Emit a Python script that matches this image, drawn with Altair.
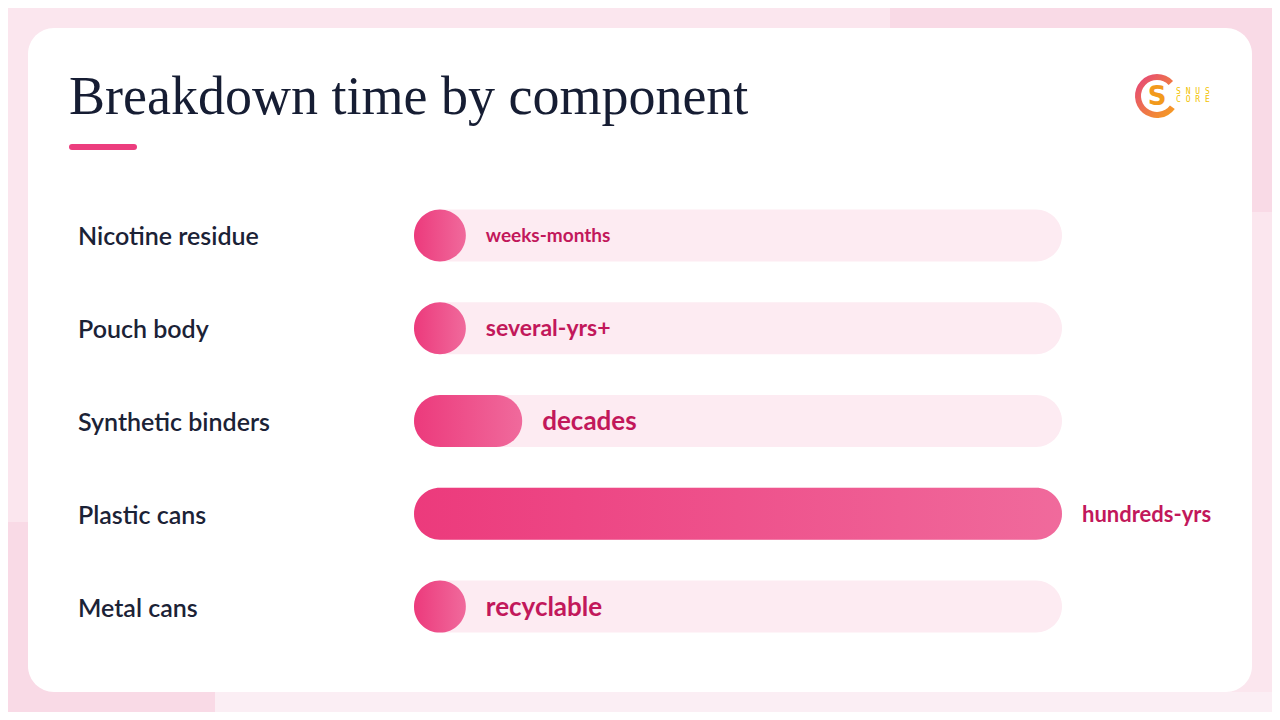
import altair as alt
import pandas as pd

# ---- data ----
components = ["Nicotine residue", "Pouch body", "Synthetic binders", "Plastic cans", "Metal cans"]
time_labels = ["weeks-months", "several-yrs+", "decades", "hundreds-yrs", "recyclable"]
bar_values = [8, 8, 16.7, 100, 8]   # relative bar length (% of track)
track_max = 100

title_text = "Breakdown time by component"

# ---- styles ----
label_sizes = [19, 23, 26, 22, 26]
O = 8  # page margin offset
W, H = 1264, 704

df = pd.DataFrame({
    "component": components,
    "label": time_labels,
    "value": bar_values,
    "track": [track_max] * len(components),
    "fs": label_sizes,
})

xs = alt.Scale(domain=[0, track_max], range=[414 - O, 1062 - O])
ys = alt.Scale(domain=components, range=[189 - O, 653 - O], paddingInner=0, paddingOuter=0)

one = pd.DataFrame({"t": [title_text]})

bg_top_right = alt.Chart(one).mark_rect(color="#f9dae6").encode(
    x=alt.value(890 - O), x2=alt.value(W), y=alt.value(0), y2=alt.value(212 - O))
bg_bottom_left = alt.Chart(one).mark_rect(color="#f9dae6").encode(
    x=alt.value(0), x2=alt.value(215 - O), y=alt.value(522 - O), y2=alt.value(H))
bg_bottom_right = alt.Chart(one).mark_rect(color="#fbeef4").encode(
    x=alt.value(215 - O), x2=alt.value(W), y=alt.value(692 - O), y2=alt.value(H))

card = alt.Chart(one).mark_rect(color="white", cornerRadius=26).encode(
    x=alt.value(28 - O), x2=alt.value(1252 - O), y=alt.value(28 - O), y2=alt.value(692 - O))

title = alt.Chart(one).mark_text(
    font="Liberation Serif", fontSize=54, color="#161d33", align="left", baseline="alphabetic"
).encode(text="t:N", x=alt.value(69 - O), y=alt.value(114 - O))

underline = alt.Chart(one).mark_rule(color="#ec3d7e", strokeWidth=6, strokeCap="round").encode(
    x=alt.value(72 - O), x2=alt.value(134 - O), y=alt.value(147 - O))

# logo
logo_ring = alt.Chart(one).mark_arc(
    radius=22, radius2=16, theta=2.2, theta2=7.1,
    color=alt.Gradient(gradient="linear",
                       stops=[alt.GradientStop(color="#e4407f", offset=0),
                              alt.GradientStop(color="#f7a21b", offset=1)],
                       x1=0, x2=1, y1=0, y2=1)
).encode(x=alt.value(1157 - O), y=alt.value(96 - O))
logo_s = alt.Chart(pd.DataFrame({"t": ["S"]})).mark_text(
    font="DejaVu Sans", fontWeight="bold", fontSize=26, color="#f29a1c", align="center", baseline="middle"
).encode(text="t:N", x=alt.value(1157 - O), y=alt.value(97 - O))
logo_t1 = alt.Chart(pd.DataFrame({"t": ["S N U S"]})).mark_text(
    font="DejaVu Sans Mono", fontSize=8, color="#f2c200", align="left", baseline="middle"
).encode(text="t:N", x=alt.value(1176 - O), y=alt.value(92 - O))
logo_t2 = alt.Chart(pd.DataFrame({"t": ["C O R E"]})).mark_text(
    font="DejaVu Sans Mono", fontSize=8, color="#f2c200", align="left", baseline="middle"
).encode(text="t:N", x=alt.value(1176 - O), y=alt.value(100 - O))

base = alt.Chart(df)

track = base.mark_bar(height=52, cornerRadius=26, color="#fdebf2").encode(
    x=alt.X("track:Q", scale=xs, axis=None),
    x2=alt.datum(0),
    y=alt.Y("component:N", scale=ys, axis=None, sort=components),
)

bars = base.mark_bar(
    height=52, cornerRadius=26,
    color=alt.Gradient(gradient="linear",
                       stops=[alt.GradientStop(color="#ec3a7c", offset=0),
                              alt.GradientStop(color="#f06a9c", offset=1)],
                       x1=0, x2=1, y1=0, y2=0)
).encode(
    x=alt.X("value:Q", scale=xs, axis=None),
    x2=alt.datum(0),
    y=alt.Y("component:N", scale=ys, axis=None, sort=components),
)

cat_labels = base.mark_text(
    font="Lato", fontSize=25, fontWeight=600, color="#1b2236", align="left", baseline="middle", dy=2
).encode(
    text="component:N",
    x=alt.value(78 - O),
    y=alt.Y("component:N", scale=ys, axis=None, sort=components),
)

val_labels = base.mark_text(
    font="Lato", fontWeight="bold", color="#c2185b", align="left", baseline="middle", dx=20, dy=1
).encode(
    text="label:N",
    x=alt.X("value:Q", scale=xs, axis=None),
    y=alt.Y("component:N", scale=ys, axis=None, sort=components),
    size=alt.Size("fs:Q", scale=None, legend=None),
)

chart = alt.layer(
    bg_top_right, bg_bottom_left, bg_bottom_right, card, title, underline,
    logo_ring, logo_s, logo_t1, logo_t2,
    track, bars, cat_labels, val_labels
).properties(
    width=W, height=H, autosize=alt.AutoSizeParams(type="none"), padding=0,
    background="#fbe6ee"
).configure_view(stroke=None)

chart.save("out.html", embed_options={"renderer": "svg", "actions": False})
